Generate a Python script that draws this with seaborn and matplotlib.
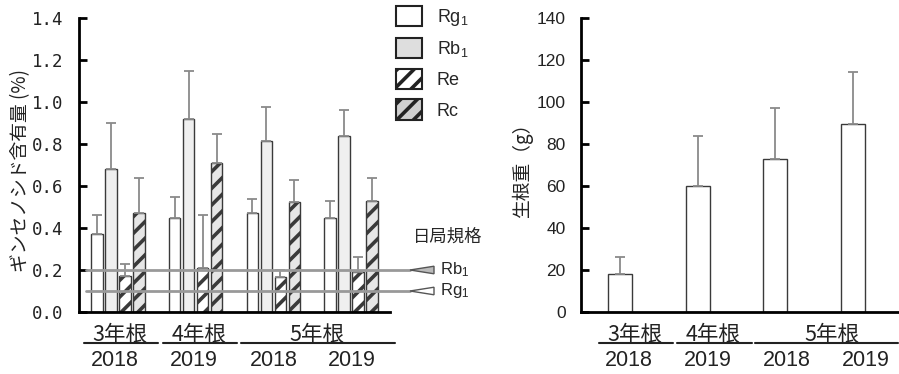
import numpy as np
import pandas as pd
import matplotlib
matplotlib.use("Agg")
import matplotlib.pyplot as plt
from matplotlib.patches import Patch, Polygon
from matplotlib.lines import Line2D
import seaborn as sns

# ---- data -------------------------------------------------------------
years = ["2018", "2019", "2018", "2019"]
ages = ["3年根", "4年根", "5年根"]
components = ["Rg$_1$", "Rb$_1$", "Re", "Rc"]

rg1 = [0.37, 0.45, 0.47, 0.45]
rb1 = [0.68, 0.92, 0.815, 0.84]
re_ = [0.17, 0.21, 0.165, 0.19]
rc = [0.47, 0.71, 0.525, 0.53]
rg1_err = [0.09, 0.10, 0.07, 0.08]
rb1_err = [0.22, 0.23, 0.16, 0.12]
re_err = [0.06, 0.25, 0.035, 0.07]
rc_err = [0.17, 0.14, 0.105, 0.11]

std_rb1 = 0.2
std_rg1 = 0.1

root_weight = [18, 60, 73, 89.5]
root_weight_err = [8, 24, 24, 25]

# ---- style ------------------------------------------------------------
sns.set_theme(style="ticks")
JP = "Noto Sans CJK JP"
LAT = "Liberation Sans"
plt.rcParams["font.family"] = [LAT, JP, "DejaVu Sans"]
plt.rcParams["mathtext.fontset"] = "custom"
plt.rcParams["mathtext.rm"] = LAT
plt.rcParams["mathtext.it"] = LAT
plt.rcParams["hatch.linewidth"] = 2.6
plt.rcParams["hatch.color"] = "black"

W, H = 899, 374
fig = plt.figure(figsize=(W / 100, H / 100), dpi=100)


def px_axes(x0, x1, y_top, y_bot):
    return fig.add_axes([x0 / W, 1 - y_bot / H, (x1 - x0) / W, (y_bot - y_top) / H])


def black_hatch(patch):
    if hasattr(patch, "set_hatchcolor"):
        patch.set_hatchcolor("black")


ax1 = px_axes(79, 390, 18, 312)
ax2 = px_axes(581, 898, 18, 312)

# ---- left: ginsenoside content ---------------------------------------
idx = np.arange(len(years))
values = [rg1, rb1, re_, rc]
errors = [rg1_err, rb1_err, re_err, rc_err]
df = pd.DataFrame({
    "pos": np.tile(idx, 4),
    "comp": np.repeat(components, 4),
    "val": np.concatenate(values),
})
fills = ["white", "#efefef", "white", "#e6e6e6"]
hatches = [None, None, "//", "//"]
sns.barplot(data=df, x="pos", y="val", hue="comp", hue_order=components,
            palette=fills, width=0.72, gap=0.18, errorbar=None,
            edgecolor="#3a3a3a", linewidth=1.0, legend=False, ax=ax1)

for cont, vals, errs, hatch in zip(ax1.containers, values, errors, hatches):
    xs = []
    for bar in cont:
        if hatch:
            bar.set_hatch(hatch)
            black_hatch(bar)
        xs.append(bar.get_x() + bar.get_width() / 2)
    ax1.errorbar(xs, vals, yerr=[np.zeros(len(errs)), errs], fmt="none",
                 ecolor="#8a8a8a", elinewidth=1.3, capsize=3.5, capthick=1.3,
                 zorder=1)

ax1.set_xlim(-0.5, 3.5)
ax1.set_ylim(0, 1.4)
ax1.set_yticks(np.arange(0, 1.41, 0.2))
ax1.set_yticklabels([f"{v:.1f}" for v in np.arange(0, 1.41, 0.2)],
                    family="DejaVu Sans Mono")
ax1.set_xticks([])
ax1.set_xlabel("")
ax1.set_ylabel("")

# Japanese Pharmacopoeia standard lines
line_kw = dict(color="#999999", lw=2.0, clip_on=False, zorder=5)
tr = ax1.get_yaxis_transform()
x_start, x_end = (86 - 79) / 311, (410 - 79) / 311
tri_len = 24 / 311
for level, face, label in [(std_rb1, "#bbbbbb", "Rb$_1$"), (std_rg1, "white", "Rg$_1$")]:
    ax1.plot([x_start, x_end], [level, level], transform=tr, **line_kw)
    hy = 0.018
    tri = Polygon([[x_end, level], [x_end + tri_len, level + hy], [x_end + tri_len, level - hy]],
                  closed=True, facecolor=face, edgecolor="#555555", lw=1.0,
                  transform=tr, clip_on=False, zorder=6)
    ax1.add_patch(tri)
    ax1.text(x_end + tri_len + 0.02, level, label, transform=tr, fontsize=12,
             va="center", ha="left", family=LAT)
ax1.text(448 / W, 1 - 237 / H, "日局規格", transform=fig.transFigure,
         fontsize=12.5, ha="center", va="center", family=JP)

# ---- right: fresh root weight ----------------------------------------
df2 = pd.DataFrame({"pos": idx, "w": root_weight})
sns.barplot(data=df2, x="pos", y="w", color="white", width=0.31,
            edgecolor="#3a3a3a", linewidth=1.0, errorbar=None, ax=ax2)
xs2 = [b.get_x() + b.get_width() / 2 for b in ax2.containers[0]]
ax2.errorbar(xs2, root_weight, yerr=[np.zeros(4), root_weight_err], fmt="none",
             ecolor="#8a8a8a", elinewidth=1.3, capsize=3.5, capthick=1.3, zorder=1)
ax2.set_xlim(-0.5, 3.58)
ax2.set_ylim(0, 140)
ax2.set_yticks(np.arange(0, 141, 20))
ax2.set_xticks([])
ax2.set_xlabel("")
ax2.set_ylabel("")

for ax in (ax1, ax2):
    sns.despine(ax=ax)
    for s in ("left", "bottom"):
        ax.spines[s].set_linewidth(2.0)
        ax.spines[s].set_color("black")
    ax.tick_params(axis="y", direction="in", length=6, width=2.0, pad=11,
                   labelsize=12.5, colors="black")
    ax.tick_params(axis="y", labelcolor="#222222")


# category labels below each panel
def under_labels(ax, age_pos, spans, year_pos):
    t = ax.get_xaxis_transform()
    for a, xp in zip(ages, age_pos):
        ax.text(xp, -0.078, a, transform=t, ha="center", va="center",
                fontsize=15.5, family=JP, color="#222222")
    for (a0, a1) in spans:
        ax.add_line(Line2D([a0, a1], [-0.107, -0.107], transform=t, color="#222222",
                           lw=1.5, clip_on=False))
    for y, xp in zip(years, year_pos):
        ax.text(xp, -0.165, y, transform=t, ha="center", va="center",
                fontsize=15.5, family=LAT, color="#222222")


under_labels(ax1, [0.03, 1.05, 2.56],
             [(-0.43, 0.51), (0.58, 1.53), (1.58, 3.56)],
             [-0.04, 0.98, 2.0, 3.01])
under_labels(ax2, [0.19, 1.2, 2.73],
             [(-0.27, 0.68), (0.74, 1.70), (1.74, 3.58)],
             [0.12, 1.13, 2.15, 3.17])

fig.text(21 / W, 1 - 171 / H, "ギンセノシド含有量 (%)", rotation=90,
         ha="center", va="center", fontsize=13.5, family=JP, color="#222222")
fig.text(522 / W, 1 - 166 / H, "生根重（g）", rotation=90,
         ha="center", va="center", fontsize=13.5, family=JP, color="#222222")

# legend
handles = [
    Patch(facecolor="white", edgecolor="#222222", lw=1.5),
    Patch(facecolor="#dedede", edgecolor="#222222", lw=1.5),
    Patch(facecolor="white", edgecolor="#222222", lw=1.5, hatch="//"),
    Patch(facecolor="#cfcfcf", edgecolor="#222222", lw=1.5, hatch="//"),
]
for h in handles:
    black_hatch(h)
fig.legend(handles, components, loc="upper left",
           bbox_to_anchor=(396 / W, 1 - 6 / H), frameon=False, fontsize=13,
           handlelength=1.45, handleheight=1.33, labelspacing=0.56,
           handletextpad=0.8, borderpad=0, borderaxespad=0)

fig.savefig("out.png", dpi=100)
